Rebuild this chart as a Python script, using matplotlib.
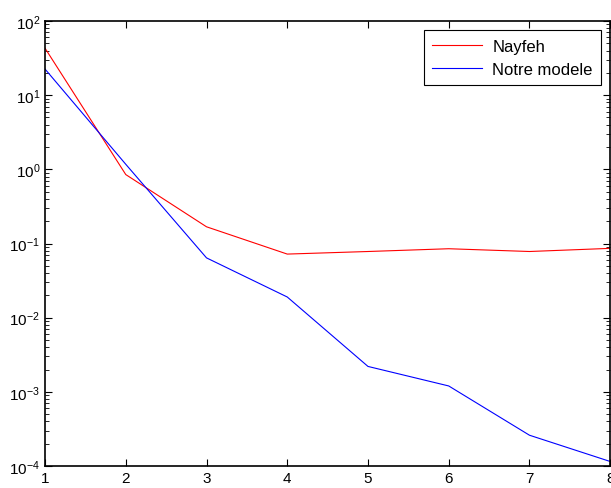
import matplotlib.pyplot as plt
import numpy as np

plt.rcParams['font.family'] = ['Liberation Sans', 'DejaVu Sans']

x = [1, 2, 3, 4, 5, 6, 7, 8]
nayfeh = [43, 0.85, 0.168, 0.072, 0.078, 0.085, 0.078, 0.086]
notre_modele = [22.5, 1.17, 0.064, 0.019, 0.0022, 0.0012, 0.00026, 0.000115]

fig = plt.figure(figsize=(6.11, 4.89), dpi=100)
ax = fig.add_axes([0.0737, 0.045, 0.925, 0.91])

ax.plot(x, nayfeh, color='red', lw=0.8, label='Nayfeh')
ax.plot(x, notre_modele, color='blue', lw=0.8, label='Notre modele')

ax.set_yscale('log')
ax.set_xlim(1, 8)
ax.set_ylim(1e-4, 1e2)
ax.set_xticks(x)
ax.set_yticks([1e-4, 1e-3, 1e-2, 1e-1, 1e0, 1e1, 1e2])
ax.tick_params(which='both', direction='in', top=True, right=True, labelsize=11)
ax.tick_params(which='major', length=5)
ax.tick_params(which='minor', length=3)
for s in ax.spines.values():
    s.set_linewidth(1.2)

leg = ax.legend(loc='upper right', fontsize=12, fancybox=False, framealpha=1,
                edgecolor='black', borderpad=0.5, handlelength=3.0,
                handletextpad=0.6, labelspacing=0.5, borderaxespad=0,
                bbox_to_anchor=(0.984, 0.979))
leg.get_frame().set_linewidth(0.8)

fig.savefig('out.png', dpi=100)
